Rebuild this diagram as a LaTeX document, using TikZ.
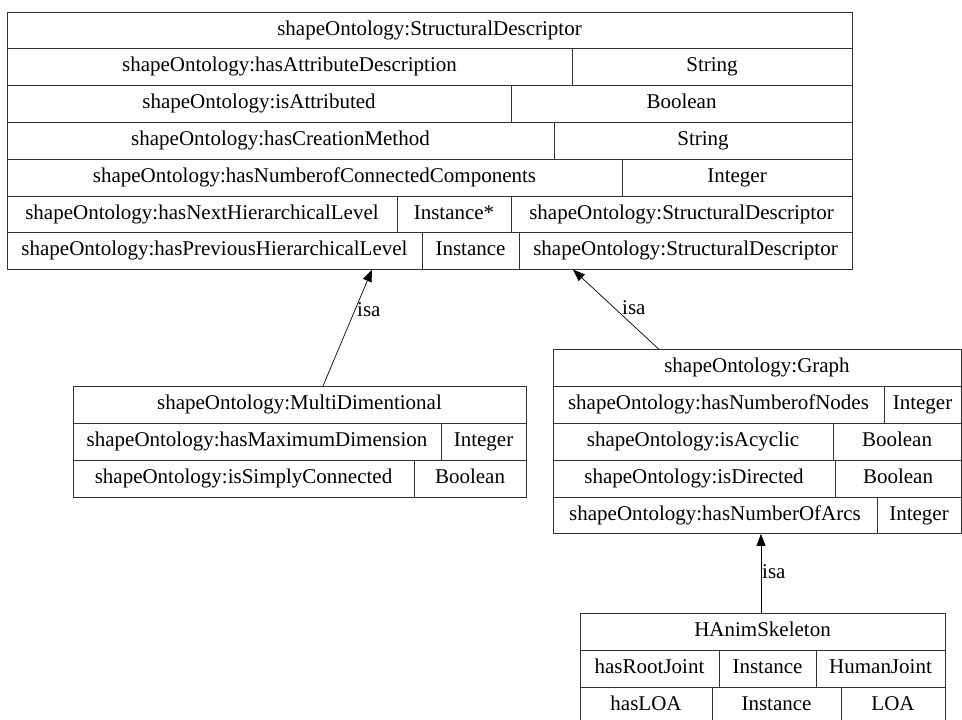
\documentclass[tikz,border=0pt]{standalone}
\usepackage{fontspec}
\setmainfont{Liberation Serif}
\usetikzlibrary{arrows.meta}
\newcommand{\mycell}[6]{\node[cell, minimum width={(#3-#2)*1pt}, minimum height={(#5-#4)*1pt}] (#1) at ({(#2+#3)/2},{(#4+#5)/2}) {#6};}
\tikzset{
  cell/.style={draw=black!80, line width=0.9pt, rectangle, inner sep=0pt, outer sep=0pt, text height=14pt, text depth=4.5pt, font=\fontsize{21}{25}\selectfont},
  isa/.style={draw=black, line width=0.7pt, -{Triangle[length=12pt,width=9pt]}},
  lbl/.style={inner sep=0pt, text height=14pt, text depth=4.5pt, font=\fontsize{21}{25}\selectfont}
}
\begin{document}
\begin{tikzpicture}[x=1pt,y=-1pt]
\useasboundingbox (0,0) rectangle (962,720);
% StructuralDescriptor
\mycell{sd}{7}{852}{12}{48.8}{shapeOntology:StructuralDescriptor}
\mycell{sd2a}{7}{572}{48.8}{85.6}{shapeOntology:hasAttributeDescription}
\mycell{sd2b}{572}{852}{48.8}{85.6}{String}
\mycell{sd3a}{7}{511}{85.6}{122.4}{shapeOntology:isAttributed}
\mycell{sd3b}{511}{852}{85.6}{122.4}{Boolean}
\mycell{sd4a}{7}{554}{122.4}{159.2}{shapeOntology:hasCreationMethod}
\mycell{sd4b}{554}{852}{122.4}{159.2}{String}
\mycell{sd5a}{7}{622}{159.2}{196}{shapeOntology:hasNumberofConnectedComponents}
\mycell{sd5b}{622}{852}{159.2}{196}{Integer}
\mycell{sd6a}{7}{397}{196}{232.8}{shapeOntology:hasNextHierarchicalLevel}
\mycell{sd6b}{397}{511}{196}{232.8}{Instance*}
\mycell{sd6c}{511}{852}{196}{232.8}{shapeOntology:StructuralDescriptor}
\mycell{sd7a}{7}{422}{232.8}{269.6}{shapeOntology:hasPreviousHierarchicalLevel}
\mycell{sd7b}{422}{519}{232.8}{269.6}{Instance}
\mycell{sd7c}{519}{852}{232.8}{269.6}{shapeOntology:StructuralDescriptor}
% MultiDimentional
\mycell{md}{73}{526}{386}{423}{shapeOntology:MultiDimentional}
\mycell{md2a}{73}{441}{423}{460}{shapeOntology:hasMaximumDimension}
\mycell{md2b}{441}{526}{423}{460}{Integer}
\mycell{md3a}{73}{414}{460}{497}{shapeOntology:isSimplyConnected}
\mycell{md3b}{414}{526}{460}{497}{Boolean}
% Graph
\mycell{gr}{553}{961}{349.4}{386.3}{shapeOntology:Graph}
\mycell{gr2a}{553}{884}{386.3}{423.2}{shapeOntology:hasNumberofNodes}
\mycell{gr2b}{884}{961}{386.3}{423.2}{Integer}
\mycell{gr3a}{553}{833}{423.2}{460.1}{shapeOntology:isAcyclic}
\mycell{gr3b}{833}{961}{423.2}{460.1}{Boolean}
\mycell{gr4a}{553}{835}{460.1}{497}{shapeOntology:isDirected}
\mycell{gr4b}{835}{961}{460.1}{497}{Boolean}
\mycell{gr5a}{553}{877}{497}{533.9}{shapeOntology:hasNumberOfArcs}
\mycell{gr5b}{877}{961}{497}{533.9}{Integer}
% HAnimSkeleton
\mycell{hs}{580}{945}{613.3}{650.4}{HAnimSkeleton}
\mycell{hs2a}{580}{719}{650.4}{687.5}{hasRootJoint}
\mycell{hs2b}{719}{816}{650.4}{687.5}{Instance}
\mycell{hs2c}{816}{945}{650.4}{687.5}{HumanJoint}
\mycell{hs3a}{580}{712}{687.5}{724.6}{hasLOA}
\mycell{hs3b}{712}{841}{687.5}{724.6}{Instance}
\mycell{hs3c}{841}{945}{687.5}{724.6}{LOA}
% connectors
\draw[isa] ([xshift=23.5pt]md.north) -- ([xshift=-57.5pt]sd7a.south -| sd.south);
\draw[isa] ([xshift=-98pt]gr.north) -- ([xshift=143.5pt]sd7a.south -| sd.south);
\draw[isa] ([xshift=-1.5pt]hs.north) -- ([xshift=-1.5pt]hs.north |- gr5a.south);
% labels
\node[lbl, anchor=west] (l1) at (357,312) {isa};
\node[lbl, anchor=west] (l2) at (622,310) {isa};
\node[lbl, anchor=west] (l3) at (762,574) {isa};
\end{tikzpicture}
\end{document}
